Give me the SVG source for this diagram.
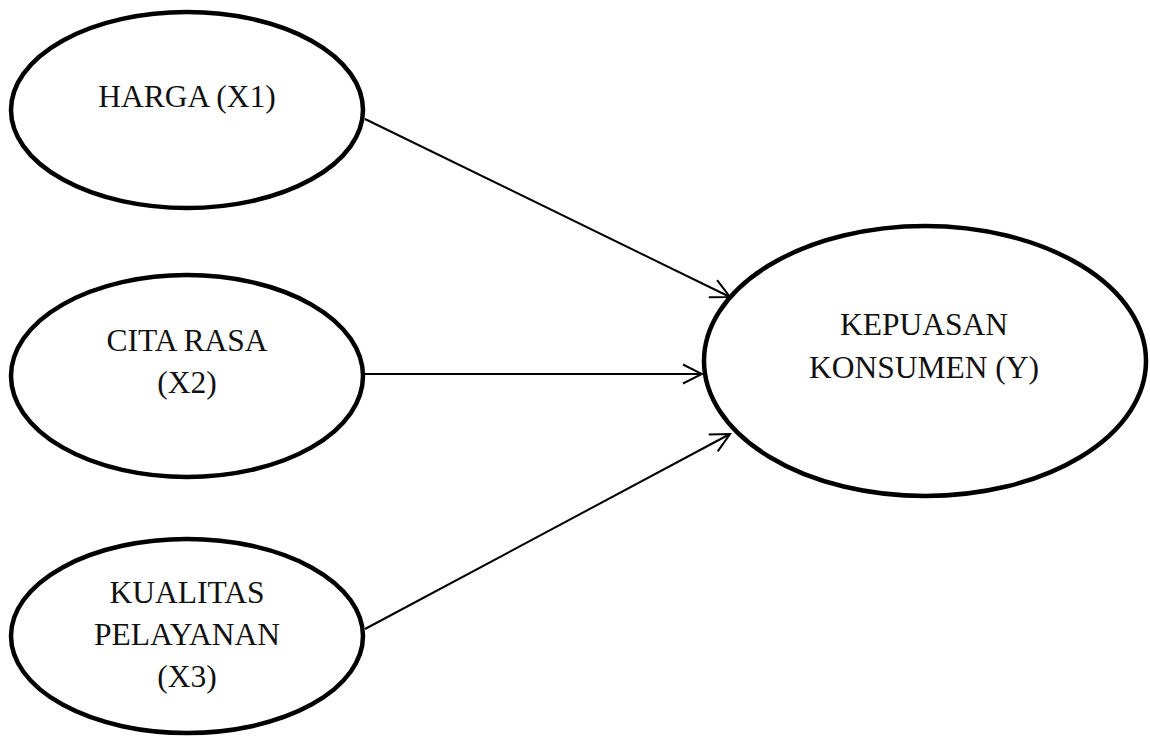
<svg xmlns="http://www.w3.org/2000/svg" width="1150" height="736" viewBox="0 0 1150 736">
<style>
.node{fill:#fff;stroke:#000;stroke-width:4.5}
.lbl{font-family:"Liberation Serif","Times New Roman",serif;font-size:31.5px;fill:#111;text-anchor:middle}
.conn{stroke:#000;stroke-width:2;fill:none;marker-end:url(#arr)}
</style>
<defs>
<marker id="arr" markerUnits="userSpaceOnUse" viewBox="-22 -12 24 24" refX="0" refY="0" markerWidth="24" markerHeight="24" orient="auto">
<path d="M-19,-9.5 L0,0 L-19,9.5" fill="none" stroke="#000" stroke-width="2"/>
</marker>
</defs>
<rect width="1150" height="736" fill="#fff"/>
<g id="connectors">
<line class="conn" x1="365" y1="119" x2="730" y2="297"/>
<line class="conn" x1="363" y1="374" x2="702" y2="374"/>
<line class="conn" x1="365" y1="629" x2="730" y2="434"/>
</g>
<g id="harga">
<ellipse class="node" cx="187" cy="110" rx="176" ry="98"/>
<text class="lbl" x="187" y="107">HARGA (X1)</text>
</g>
<g id="citarasa">
<ellipse class="node" cx="187" cy="376" rx="176" ry="101"/>
<text class="lbl" x="187" y="351">CITA RASA</text>
<text class="lbl" x="187" y="393">(X2)</text>
</g>
<g id="kualitas">
<ellipse class="node" cx="187" cy="636" rx="176" ry="97"/>
<text class="lbl" x="187" y="603">KUALITAS</text>
<text class="lbl" x="187" y="645">PELAYANAN</text>
<text class="lbl" x="187" y="687">(X3)</text>
</g>
<g id="kepuasan">
<ellipse class="node" cx="925" cy="361" rx="221" ry="135"/>
<text class="lbl" x="924" y="335">KEPUASAN</text>
<text class="lbl" x="924" y="378">KONSUMEN (Y)</text>
</g>
</svg>
